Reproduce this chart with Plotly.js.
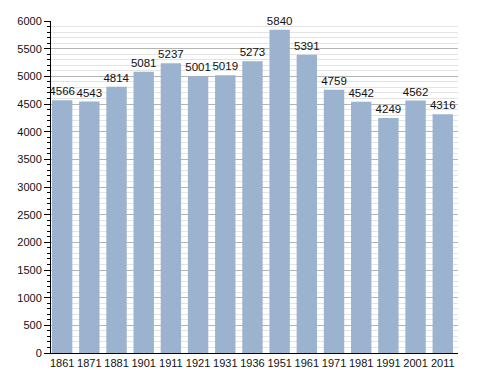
<!DOCTYPE html>
<html><head><meta charset="utf-8">
<script src="https://cdn.plot.ly/plotly-3.0.1.min.js"></script>
<style>html,body{margin:0;padding:0;background:#fff}</style>
</head><body>
<div id="chart" style="width:488px;height:373px"></div>
<script>
var years = ["1861","1871","1881","1901","1911","1921","1931","1936","1951","1961","1971","1981","1991","2001","2011"];
var population = [4566,4543,4814,5081,5237,5001,5019,5273,5840,5391,4759,4542,4249,4562,4316];
var yTicks = [0,500,1000,1500,2000,2500,3000,3500,4000,4500,5000,5500,6000];

var trace = {
  type: 'bar',
  x: years,
  y: population,
  text: population.map(String),
  textposition: 'outside',
  constraintext: 'none',
  cliponaxis: false,
  textfont: {family: 'Liberation Sans, Arial, sans-serif', size: 11.5, color: '#111'},
  marker: {color: '#9bb3cf', line: {width: 0}},
  hoverinfo: 'x+y'
};

var layout = {
  width: 488, height: 373,
  margin: {l: 51, r: 30, t: 21, b: 20, pad: 0},
  paper_bgcolor: '#fff', plot_bgcolor: '#fff',
  showlegend: false,
  bargap: 0.25,
  font: {family: 'Liberation Sans, Arial, sans-serif', size: 11, color: '#111'},
  xaxis: {
    type: 'category',
    range: [-0.41, 14.56],
    showline: true, linecolor: '#000', linewidth: 1,
    ticks: '', showgrid: false, zeroline: false,
    tickfont: {size: 11}
  },
  yaxis: {
    range: [0, 6000],
    tickvals: yTicks,
    ticktext: yTicks.map(String),
    showline: true, linecolor: '#000', linewidth: 1,
    ticks: 'outside', ticklen: 6, tickcolor: '#000',
    showgrid: true, gridcolor: '#b4b4b4', gridwidth: 1,
    zeroline: false,
    minor: {dtick: 100, ticks: 'outside', ticklen: 3, tickcolor: '#000', showgrid: true, gridcolor: '#e4e4e4', gridwidth: 1},
    tickfont: {size: 11}
  }
};

Plotly.newPlot('chart', [trace], layout, {displayModeBar: false, staticPlot: true});
</script>
</body></html>
